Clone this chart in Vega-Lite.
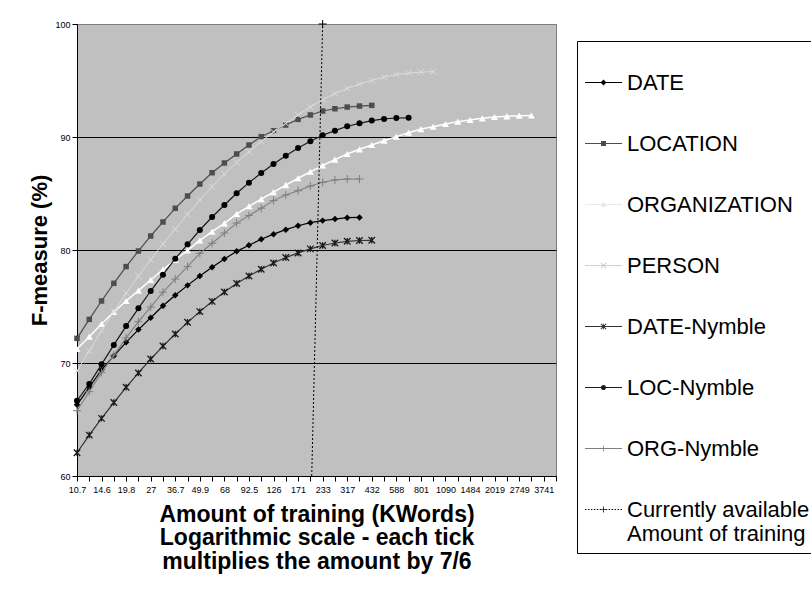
{
  "$schema": "https://vega.github.io/schema/vega-lite/v6.json",
  "width": 479,
  "height": 452,
  "autosize": {"type": "none"},
  "padding": {"left": 77, "top": 24, "right": 255, "bottom": 132},
  "background": "white",
  "config": {
    "font": "Liberation Sans",
    "view": {"fill": "#c0c0c0", "stroke": "#808080", "strokeWidth": 1},
    "axis": {"labelFont": "Liberation Sans", "titleFont": "Liberation Sans", "labelColor": "black", "titleColor": "black", "tickColor": "black", "domainColor": "black"}
  },
  "datasets": {
    "pts": [
      {"series":"DATE","kw":10.7,"f":66.3},{"series":"DATE","kw":12.48,"f":67.85},{"series":"DATE","kw":14.56,"f":69.4},{"series":"DATE","kw":16.99,"f":70.63},{"series":"DATE","kw":19.82,"f":71.83},{"series":"DATE","kw":23.13,"f":72.96},{"series":"DATE","kw":26.98,"f":74.0},{"series":"DATE","kw":31.48,"f":75.07},{"series":"DATE","kw":36.72,"f":76.0},{"series":"DATE","kw":42.85,"f":76.87},{"series":"DATE","kw":49.99,"f":77.7},{"series":"DATE","kw":58.32,"f":78.47},{"series":"DATE","kw":68.04,"f":79.2},{"series":"DATE","kw":79.38,"f":79.88},{"series":"DATE","kw":92.61,"f":80.42},{"series":"DATE","kw":108.04,"f":80.95},{"series":"DATE","kw":126.05,"f":81.4},{"series":"DATE","kw":147.05,"f":81.8},{"series":"DATE","kw":171.56,"f":82.15},{"series":"DATE","kw":200.16,"f":82.42},{"series":"DATE","kw":233.52,"f":82.6},{"series":"DATE","kw":272.44,"f":82.74},{"series":"DATE","kw":317.84,"f":82.86},{"series":"DATE","kw":370.81,"f":82.88},
      {"series":"LOCATION","kw":10.7,"f":72.18},{"series":"LOCATION","kw":12.48,"f":73.86},{"series":"LOCATION","kw":14.56,"f":75.49},{"series":"LOCATION","kw":16.99,"f":77.05},{"series":"LOCATION","kw":19.82,"f":78.53},{"series":"LOCATION","kw":23.13,"f":79.91},{"series":"LOCATION","kw":26.98,"f":81.24},{"series":"LOCATION","kw":31.48,"f":82.48},{"series":"LOCATION","kw":36.72,"f":83.69},{"series":"LOCATION","kw":42.85,"f":84.78},{"series":"LOCATION","kw":49.99,"f":85.84},{"series":"LOCATION","kw":58.32,"f":86.84},{"series":"LOCATION","kw":68.04,"f":87.7},{"series":"LOCATION","kw":79.38,"f":88.5},{"series":"LOCATION","kw":92.61,"f":89.29},{"series":"LOCATION","kw":108.04,"f":90.03},{"series":"LOCATION","kw":126.05,"f":90.55},{"series":"LOCATION","kw":147.05,"f":91.06},{"series":"LOCATION","kw":171.56,"f":91.56},{"series":"LOCATION","kw":200.16,"f":91.95},{"series":"LOCATION","kw":233.52,"f":92.3},{"series":"LOCATION","kw":272.44,"f":92.5},{"series":"LOCATION","kw":317.84,"f":92.65},{"series":"LOCATION","kw":370.81,"f":92.74},{"series":"LOCATION","kw":432.62,"f":92.8},
      {"series":"ORGANIZATION","kw":10.7,"f":71.24},{"series":"ORGANIZATION","kw":12.48,"f":72.33},{"series":"ORGANIZATION","kw":14.56,"f":73.45},{"series":"ORGANIZATION","kw":16.99,"f":74.51},{"series":"ORGANIZATION","kw":19.82,"f":75.49},{"series":"ORGANIZATION","kw":23.13,"f":76.4},{"series":"ORGANIZATION","kw":26.98,"f":77.35},{"series":"ORGANIZATION","kw":31.48,"f":78.27},{"series":"ORGANIZATION","kw":36.72,"f":79.12},{"series":"ORGANIZATION","kw":42.85,"f":79.97},{"series":"ORGANIZATION","kw":49.99,"f":80.85},{"series":"ORGANIZATION","kw":58.32,"f":81.62},{"series":"ORGANIZATION","kw":68.04,"f":82.36},{"series":"ORGANIZATION","kw":79.38,"f":83.19},{"series":"ORGANIZATION","kw":92.61,"f":83.87},{"series":"ORGANIZATION","kw":108.04,"f":84.5},{"series":"ORGANIZATION","kw":126.05,"f":85.12},{"series":"ORGANIZATION","kw":147.05,"f":85.74},{"series":"ORGANIZATION","kw":171.56,"f":86.35},{"series":"ORGANIZATION","kw":200.16,"f":86.92},{"series":"ORGANIZATION","kw":233.52,"f":87.48},{"series":"ORGANIZATION","kw":272.44,"f":88.0},{"series":"ORGANIZATION","kw":317.84,"f":88.5},{"series":"ORGANIZATION","kw":370.81,"f":88.91},{"series":"ORGANIZATION","kw":432.62,"f":89.29},{"series":"ORGANIZATION","kw":504.72,"f":89.67},{"series":"ORGANIZATION","kw":588.84,"f":90.03},{"series":"ORGANIZATION","kw":686.98,"f":90.38},{"series":"ORGANIZATION","kw":801.48,"f":90.7},{"series":"ORGANIZATION","kw":935.06,"f":90.91},{"series":"ORGANIZATION","kw":1090.9,"f":91.15},{"series":"ORGANIZATION","kw":1272.7,"f":91.36},{"series":"ORGANIZATION","kw":1484.8,"f":91.5},{"series":"ORGANIZATION","kw":1732.3,"f":91.65},{"series":"ORGANIZATION","kw":2021,"f":91.77},{"series":"ORGANIZATION","kw":2357.9,"f":91.83},{"series":"ORGANIZATION","kw":2750.8,"f":91.89},{"series":"ORGANIZATION","kw":3209.3,"f":91.9},
      {"series":"PERSON","kw":10.7,"f":69.3},{"series":"PERSON","kw":12.48,"f":71.06},{"series":"PERSON","kw":14.56,"f":72.86},{"series":"PERSON","kw":16.99,"f":74.54},{"series":"PERSON","kw":19.82,"f":76.17},{"series":"PERSON","kw":23.13,"f":77.7},{"series":"PERSON","kw":26.98,"f":79.15},{"series":"PERSON","kw":31.48,"f":80.53},{"series":"PERSON","kw":36.72,"f":81.86},{"series":"PERSON","kw":42.85,"f":83.16},{"series":"PERSON","kw":49.99,"f":84.42},{"series":"PERSON","kw":58.32,"f":85.6},{"series":"PERSON","kw":68.04,"f":86.73},{"series":"PERSON","kw":79.38,"f":87.75},{"series":"PERSON","kw":92.61,"f":88.7},{"series":"PERSON","kw":108.04,"f":89.6},{"series":"PERSON","kw":126.05,"f":90.45},{"series":"PERSON","kw":147.05,"f":91.2},{"series":"PERSON","kw":171.56,"f":91.95},{"series":"PERSON","kw":200.16,"f":92.65},{"series":"PERSON","kw":233.52,"f":93.3},{"series":"PERSON","kw":272.44,"f":93.85},{"series":"PERSON","kw":317.84,"f":94.3},{"series":"PERSON","kw":370.81,"f":94.68},{"series":"PERSON","kw":432.62,"f":95.0},{"series":"PERSON","kw":504.72,"f":95.3},{"series":"PERSON","kw":588.84,"f":95.52},{"series":"PERSON","kw":686.98,"f":95.66},{"series":"PERSON","kw":801.48,"f":95.74},{"series":"PERSON","kw":935.06,"f":95.78},
      {"series":"DATE-Nymble","kw":10.7,"f":62.06},{"series":"DATE-Nymble","kw":12.48,"f":63.62},{"series":"DATE-Nymble","kw":14.56,"f":65.1},{"series":"DATE-Nymble","kw":16.99,"f":66.5},{"series":"DATE-Nymble","kw":19.82,"f":67.85},{"series":"DATE-Nymble","kw":23.13,"f":69.12},{"series":"DATE-Nymble","kw":26.98,"f":70.35},{"series":"DATE-Nymble","kw":31.48,"f":71.5},{"series":"DATE-Nymble","kw":36.72,"f":72.57},{"series":"DATE-Nymble","kw":42.85,"f":73.6},{"series":"DATE-Nymble","kw":49.99,"f":74.55},{"series":"DATE-Nymble","kw":58.32,"f":75.45},{"series":"DATE-Nymble","kw":68.04,"f":76.28},{"series":"DATE-Nymble","kw":79.38,"f":77.03},{"series":"DATE-Nymble","kw":92.61,"f":77.7},{"series":"DATE-Nymble","kw":108.04,"f":78.3},{"series":"DATE-Nymble","kw":126.05,"f":78.85},{"series":"DATE-Nymble","kw":147.05,"f":79.33},{"series":"DATE-Nymble","kw":171.56,"f":79.74},{"series":"DATE-Nymble","kw":200.16,"f":80.1},{"series":"DATE-Nymble","kw":233.52,"f":80.4},{"series":"DATE-Nymble","kw":272.44,"f":80.62},{"series":"DATE-Nymble","kw":317.84,"f":80.77},{"series":"DATE-Nymble","kw":370.81,"f":80.84},{"series":"DATE-Nymble","kw":432.62,"f":80.86},
      {"series":"LOC-Nymble","kw":10.7,"f":66.66},{"series":"LOC-Nymble","kw":12.48,"f":68.15},{"series":"LOC-Nymble","kw":14.56,"f":69.88},{"series":"LOC-Nymble","kw":16.99,"f":71.6},{"series":"LOC-Nymble","kw":19.82,"f":73.27},{"series":"LOC-Nymble","kw":23.13,"f":74.84},{"series":"LOC-Nymble","kw":26.98,"f":76.37},{"series":"LOC-Nymble","kw":31.48,"f":77.82},{"series":"LOC-Nymble","kw":36.72,"f":79.23},{"series":"LOC-Nymble","kw":42.85,"f":80.5},{"series":"LOC-Nymble","kw":49.99,"f":81.77},{"series":"LOC-Nymble","kw":58.32,"f":82.92},{"series":"LOC-Nymble","kw":68.04,"f":83.98},{"series":"LOC-Nymble","kw":79.38,"f":85.02},{"series":"LOC-Nymble","kw":92.61,"f":85.96},{"series":"LOC-Nymble","kw":108.04,"f":86.81},{"series":"LOC-Nymble","kw":126.05,"f":87.61},{"series":"LOC-Nymble","kw":147.05,"f":88.35},{"series":"LOC-Nymble","kw":171.56,"f":89.03},{"series":"LOC-Nymble","kw":200.16,"f":89.62},{"series":"LOC-Nymble","kw":233.52,"f":90.15},{"series":"LOC-Nymble","kw":272.44,"f":90.56},{"series":"LOC-Nymble","kw":317.84,"f":90.95},{"series":"LOC-Nymble","kw":370.81,"f":91.21},{"series":"LOC-Nymble","kw":432.62,"f":91.45},{"series":"LOC-Nymble","kw":504.72,"f":91.6},{"series":"LOC-Nymble","kw":588.84,"f":91.68},{"series":"LOC-Nymble","kw":686.98,"f":91.7},
      {"series":"ORG-Nymble","kw":10.7,"f":65.78},{"series":"ORG-Nymble","kw":12.48,"f":67.46},{"series":"ORG-Nymble","kw":14.56,"f":69.15},{"series":"ORG-Nymble","kw":16.99,"f":70.7},{"series":"ORG-Nymble","kw":19.82,"f":72.22},{"series":"ORG-Nymble","kw":23.13,"f":73.66},{"series":"ORG-Nymble","kw":26.98,"f":74.95},{"series":"ORG-Nymble","kw":31.48,"f":76.27},{"series":"ORG-Nymble","kw":36.72,"f":77.43},{"series":"ORG-Nymble","kw":42.85,"f":78.53},{"series":"ORG-Nymble","kw":49.99,"f":79.71},{"series":"ORG-Nymble","kw":58.32,"f":80.6},{"series":"ORG-Nymble","kw":68.04,"f":81.5},{"series":"ORG-Nymble","kw":79.38,"f":82.38},{"series":"ORG-Nymble","kw":92.61,"f":83.05},{"series":"ORG-Nymble","kw":108.04,"f":83.7},{"series":"ORG-Nymble","kw":126.05,"f":84.37},{"series":"ORG-Nymble","kw":147.05,"f":84.87},{"series":"ORG-Nymble","kw":171.56,"f":85.25},{"series":"ORG-Nymble","kw":200.16,"f":85.66},{"series":"ORG-Nymble","kw":233.52,"f":85.99},{"series":"ORG-Nymble","kw":272.44,"f":86.2},{"series":"ORG-Nymble","kw":317.84,"f":86.28},{"series":"ORG-Nymble","kw":370.81,"f":86.28},
      {"series":"Currently available Amount of training","kw":233.52,"f":100},{"series":"Currently available Amount of training","kw":203.6,"f":60}
    ]
  },
  "data": {"name": "pts"},
  "encoding": {
    "x": {
      "field": "kw", "type": "quantitative",
      "scale": {"type": "log", "domain": [10.7, 4368.2], "nice": false},
      "axis": {
        "values": [10.7,12.48,14.56,16.99,19.82,23.13,26.98,31.48,36.72,42.85,49.99,58.32,68.04,79.38,92.61,108.04,126.05,147.05,171.56,200.16,233.52,272.44,317.84,370.81,432.62,504.72,588.84,686.98,801.48,935.06,1090.9,1272.7,1484.8,1732.3,2021,2357.9,2750.8,3209.3,3744.2,4368.2],
        "labelExpr": "round(log(datum.value/10.7)/log(7/6)) % 2 == 0 ? ['10.7','14.6','19.8','27','36.7','49.9','68','92.5','126','171','233','317','432','588','801','1090','1484','2019','2749','3741'][round(log(datum.value/10.7)/log(7/6))/2] : ''",
        "labelOverlap": false, "labelFlush": false, "labelBound": false,
        "labelFontSize": 9, "labelPadding": 4, "tickSize": 5, "grid": false,
        "title": ["Amount of training (KWords)", "Logarithmic scale - each tick", "multiplies the amount by 7/6"],
        "titleFontSize": 23, "titleFontWeight": "bold", "titleLineHeight": 23.5, "titlePadding": 9
      }
    },
    "y": {
      "field": "f", "type": "quantitative",
      "scale": {"domain": [60, 100], "nice": false, "zero": false},
      "axis": {
        "values": [60, 70, 80, 90, 100],
        "grid": true,
        "gridColor": {"condition": {"test": "datum.value == 100", "value": "#808080"}, "value": "black"},
        "gridOpacity": 1,
        "labelFontSize": 9, "labelPadding": 2, "tickSize": 5,
        "title": "F-measure (%)", "titleFontSize": 22, "titleFontWeight": "bold", "titlePadding": 3
      }
    }
  },
  "layer": [
    {"transform": [{"filter": {"field": "series", "equal": "DATE"}}],
     "mark": {"type": "line", "color": "#000000", "strokeWidth": 1.2, "point": {"shape": "diamond", "size": 42, "filled": true, "color": "#000000", "opacity": 1}}},
    {"transform": [{"filter": {"field": "series", "equal": "LOCATION"}}],
     "mark": {"type": "line", "color": "#4d4d4d", "strokeWidth": 1.2, "point": {"shape": "square", "size": 30, "filled": true, "color": "#4d4d4d", "opacity": 1}}},
    {"transform": [{"filter": {"field": "series", "equal": "ORGANIZATION"}}],
     "mark": {"type": "line", "color": "#ffffff", "strokeWidth": 1.5, "point": {"shape": "triangle-up", "size": 50, "filled": true, "color": "#ffffff", "opacity": 1}}},
    {"transform": [{"filter": {"field": "series", "equal": "PERSON"}}],
     "mark": {"type": "line", "color": "#dcdcdc", "strokeWidth": 1, "point": {"shape": "M-1,-1L1,1M-1,1L1,-1", "size": 36, "filled": false, "color": "#dcdcdc", "strokeWidth": 1, "opacity": 1}}},
    {"transform": [{"filter": {"field": "series", "equal": "DATE-Nymble"}}],
     "mark": {"type": "line", "color": "#333333", "strokeWidth": 1.2, "point": {"shape": "M-1,-1L1,1M-1,1L1,-1M0,-1L0,1", "size": 42, "filled": false, "color": "#1a1a1a", "strokeWidth": 1.3, "opacity": 1}}},
    {"transform": [{"filter": {"field": "series", "equal": "LOC-Nymble"}}],
     "mark": {"type": "line", "color": "#1a1a1a", "strokeWidth": 1.2, "point": {"shape": "circle", "size": 36, "filled": true, "color": "#000000", "opacity": 1}}},
    {"transform": [{"filter": {"field": "series", "equal": "ORG-Nymble"}}],
     "mark": {"type": "line", "color": "#7f7f7f", "strokeWidth": 1.1, "point": {"shape": "M-1,0L1,0M0,-1L0,1", "size": 64, "filled": false, "color": "#7f7f7f", "strokeWidth": 1, "opacity": 1}}},
    {"transform": [{"filter": {"field": "series", "equal": "Currently available Amount of training"}}],
     "mark": {"type": "line", "color": "#000000", "strokeWidth": 1, "strokeDash": [2, 2]}},
    {"transform": [{"filter": "datum.series == 'Currently available Amount of training' && datum.f == 100"}],
     "mark": {"type": "point", "shape": "M-1,0L1,0M0,-1L0,1", "size": 64, "filled": false, "color": "#000000", "strokeWidth": 1, "opacity": 1}},
    {"transform": [{"filter": "false"}],
     "mark": {"type": "point", "filled": true, "opacity": 1, "size": 1369},
     "encoding": {
       "shape": {"field": "series", "type": "nominal",
         "scale": {"domain": ["DATE","LOCATION","ORGANIZATION","PERSON","DATE-Nymble","LOC-Nymble","ORG-Nymble","Currently available Amount of training"],
           "range": [
             "M-1,-0.032H1V0.032H-1ZM0,-0.16L0.16,0L0,0.16L-0.16,0Z",
             "M-1,-0.032H1V0.032H-1ZM-0.135,-0.135H0.135V0.135H-0.135Z",
             "M-1,-0.032H1V0.032H-1ZM0,-0.17L0.16,0.12L-0.16,0.12Z",
             "M-1,-0.032H1V0.032H-1ZM-0.12,-0.16L0.16,0.12L0.12,0.16L-0.16,-0.12ZM0.16,-0.12L-0.12,0.16L-0.16,0.12L0.12,-0.16Z",
             "M-1,-0.032H1V0.032H-1ZM-0.12,-0.16L0.16,0.12L0.12,0.16L-0.16,-0.12ZM0.16,-0.12L-0.12,0.16L-0.16,0.12L0.12,-0.16ZM-0.02,-0.16H0.02V0.16H-0.02Z",
             "M-1,-0.032H1V0.032H-1ZM-0.14,0A0.14,0.14 0 1 1 0.14,0A0.14,0.14 0 1 1 -0.14,0Z",
             "M-1,-0.032H1V0.032H-1ZM-0.16,-0.02H0.16V0.02H-0.16ZM-0.02,-0.16H0.02V0.16H-0.02Z",
             "M-1,-0.025h0.08v0.05h-0.08ZM-0.84,-0.025h0.08v0.05h-0.08ZM-0.68,-0.025h0.08v0.05h-0.08ZM-0.52,-0.025h0.08v0.05h-0.08ZM-0.36,-0.025h0.08v0.05h-0.08ZM-0.2,-0.025h0.08v0.05h-0.08ZM-0.04,-0.025h0.08v0.05h-0.08ZM0.12,-0.025h0.08v0.05h-0.08ZM0.28,-0.025h0.08v0.05h-0.08ZM0.44,-0.025h0.08v0.05h-0.08ZM0.6,-0.025h0.08v0.05h-0.08ZM0.76,-0.025h0.08v0.05h-0.08ZM0.92,-0.025h0.08v0.05h-0.08ZM-0.02,-0.16H0.02V0.16H-0.02ZM-0.16,-0.02H0.16V0.02H-0.16Z"
           ]},
         "legend": {"title": "\u00a0", "orient": "none", "legendX": 500, "legendY": 17, "padding": 8, "strokeColor": "black", "fillColor": "white",
           "labelFontSize": 22, "labelColor": "black", "labelOffset": 5, "labelLimit": 400, "rowPadding": 31, "symbolSize": 1369, "symbolStrokeWidth": 0,
           "titleFontSize": 10, "titlePadding": 5,
           "labelExpr": "datum.value == 'Currently available Amount of training' ? ['Currently available', 'Amount of training'] : datum.label",
           "encode": {"labels": {"update": {"dy": {"signal": "datum.value == 'Currently available Amount of training' ? 10.5 : 0"}, "lineHeight": {"value": 21}}}}}},
       "color": {"field": "series", "type": "nominal",
         "scale": {"domain": ["DATE","LOCATION","ORGANIZATION","PERSON","DATE-Nymble","LOC-Nymble","ORG-Nymble","Currently available Amount of training"],
           "range": ["#000000","#4d4d4d","#e8e8e8","#d0d0d0","#333333","#1a1a1a","#7f7f7f","#000000"]},
         "legend": {"title": "\u00a0", "orient": "none", "legendX": 500, "legendY": 17, "padding": 8, "strokeColor": "black", "fillColor": "white",
           "labelFontSize": 22, "labelColor": "black", "labelOffset": 5, "labelLimit": 400, "rowPadding": 31, "symbolSize": 1369, "symbolStrokeWidth": 0,
           "titleFontSize": 10, "titlePadding": 5,
           "labelExpr": "datum.value == 'Currently available Amount of training' ? ['Currently available', 'Amount of training'] : datum.label",
           "encode": {"labels": {"update": {"dy": {"signal": "datum.value == 'Currently available Amount of training' ? 10.5 : 0"}, "lineHeight": {"value": 21}}}}}}
     }}
  ]
}
